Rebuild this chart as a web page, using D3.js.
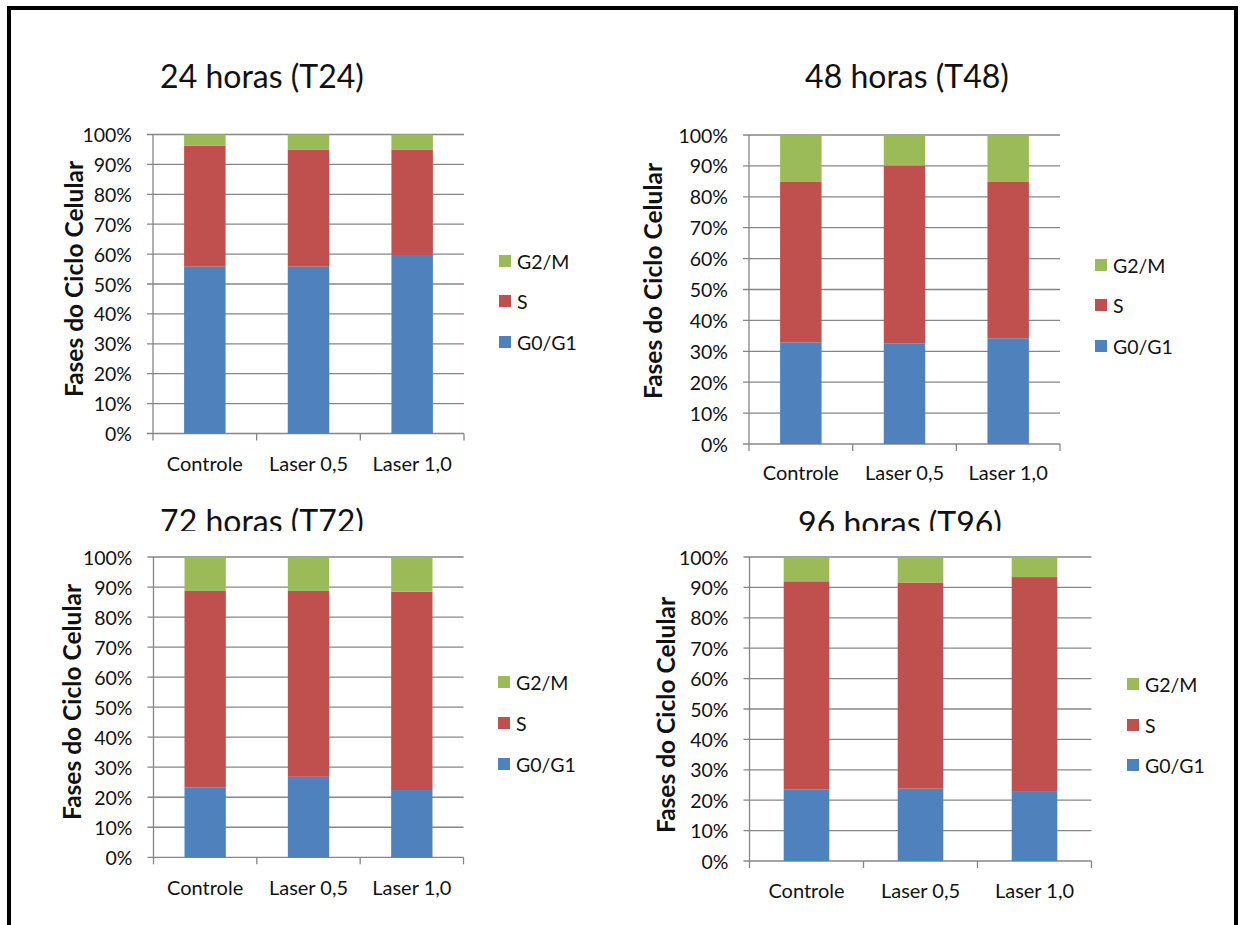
<!DOCTYPE html>
<html>
<head>
<meta charset="utf-8">
<script src="https://cdn.jsdelivr.net/npm/d3@7"></script>
<style>
  html, body { margin: 0; padding: 0; background: #fff; }
  svg { display: block; }
  text { font-family: Lato, "Open Sans", sans-serif; fill: #111; }
</style>
</head>
<body>
<svg id="chart" width="1240" height="925"></svg>
<script>
// ---------------- DATA ----------------
const categories = ["Controle", "Laser 0,5", "Laser 1,0"];
const seriesNames = ["G0/G1", "S", "G2/M"];
const legendOrder = ["G2/M", "S", "G0/G1"];
const panelTitles = ["24 horas (T24)", "48 horas (T48)", "72 horas (T72)", "96 horas (T96)"];
const yAxisTitle = "Fases do Ciclo Celular";
const yTickValues = [0, 10, 20, 30, 40, 50, 60, 70, 80, 90, 100];

const t24_G0G1 = [55.8, 55.8, 59.7];
const t24_S    = [40.5, 39.2, 35.3];
const t24_G2M  = [3.7, 5.0, 5.0];

const t48_G0G1 = [32.9, 32.6, 34.2];
const t48_S    = [51.9, 57.5, 50.6];
const t48_G2M  = [15.2, 9.9, 15.2];

const t72_G0G1 = [23.2, 26.8, 22.4];
const t72_S    = [65.5, 61.9, 66.0];
const t72_G2M  = [11.3, 11.3, 11.6];

const t96_G0G1 = [23.5, 23.8, 23.0];
const t96_S    = [68.5, 67.8, 70.4];
const t96_G2M  = [8.0, 8.4, 6.6];

const panelData = [
  [t24_G0G1, t24_S, t24_G2M],
  [t48_G0G1, t48_S, t48_G2M],
  [t72_G0G1, t72_S, t72_G2M],
  [t96_G0G1, t96_S, t96_G2M]
];

// ---------------- STYLE / LAYOUT ----------------
const colors = { "G0/G1": "#4F81BD", "S": "#C0504D", "G2/M": "#9BBB59" };
const gridColor = "#868686";

const layout = [
  { x0: 153, x1: 464, yTop: 134.5, yBot: 433.5, titleX: 262, titleY: 88, clipY: null,
    ylabX: 83, ylabY: 279, legX: 499, legY: [261, 301, 342], catY: 463 },
  { x0: 749, x1: 1060, yTop: 135, yBot: 444, titleX: 907, titleY: 88, clipY: null,
    ylabX: 662, ylabY: 281, legX: 1095, legY: [265, 305, 346], catY: 472 },
  { x0: 153.5, x1: 463.5, yTop: 557, yBot: 857.3, titleX: 262, titleY: 533, clipY: 531,
    ylabX: 81, ylabY: 702, legX: 498, legY: [682, 723, 764], catY: 887 },
  { x0: 749.5, x1: 1091.5, yTop: 557, yBot: 861, titleX: 900, titleY: 535, clipY: 531,
    ylabX: 675, ylabY: 715, legX: 1127, legY: [684, 725, 765], catY: 890 }
];

const svg = d3.select("#chart");

// clip for lower titles
const defs = svg.append("defs");
defs.append("clipPath").attr("id", "titleClip")
  .append("rect").attr("x", 0).attr("y", 480).attr("width", 1240).attr("height", 51);

layout.forEach((L, pi) => {
  const g = svg.append("g");
  const x = d3.scaleBand().domain(categories).range([L.x0, L.x1])
    .paddingInner(0.6).paddingOuter(0.3);
  const y = d3.scaleLinear().domain([0, 100]).range([L.yBot, L.yTop]);
  const step = (L.x1 - L.x0) / categories.length;

  // gridlines
  g.selectAll(".grid").data(yTickValues).enter().append("line")
    .attr("x1", L.x0 - 6).attr("x2", L.x1)
    .attr("y1", d => y(d)).attr("y2", d => y(d))
    .attr("stroke", gridColor).attr("stroke-width", 1.3);

  // y axis line
  g.append("line").attr("x1", L.x0).attr("x2", L.x0)
    .attr("y1", L.yTop).attr("y2", L.yBot)
    .attr("stroke", gridColor).attr("stroke-width", 1.3);

  // x boundary ticks
  g.selectAll(".xt").data(d3.range(categories.length + 1)).enter().append("line")
    .attr("x1", i => L.x0 + i * step).attr("x2", i => L.x0 + i * step)
    .attr("y1", L.yBot).attr("y2", L.yBot + 7)
    .attr("stroke", gridColor).attr("stroke-width", 1.3);

  // stacked bars
  const rows = categories.map((c, ci) => {
    const o = { cat: c };
    seriesNames.forEach((s, si) => { o[s] = panelData[pi][si][ci]; });
    return o;
  });
  const stack = d3.stack().keys(seriesNames)(rows);
  stack.forEach(layer => {
    g.selectAll(null).data(layer).enter().append("rect")
      .attr("x", d => x(d.data.cat))
      .attr("width", x.bandwidth())
      .attr("y", d => y(d[1]))
      .attr("height", d => y(d[0]) - y(d[1]))
      .attr("fill", colors[layer.key]);
  });

  // y tick labels
  g.selectAll(".yl").data(yTickValues).enter().append("text")
    .attr("x", L.x0 - 21).attr("y", d => y(d))
    .attr("text-anchor", "end").attr("dominant-baseline", "central")
    .style("font-size", "19.5px").text(d => d + "%");

  // category labels
  g.selectAll(".cl").data(categories).enter().append("text")
    .attr("x", d => x(d) + x.bandwidth() / 2).attr("y", L.catY)
    .attr("text-anchor", "middle").attr("dominant-baseline", "central")
    .style("font-size", "20px").text(d => d);

  // y axis title
  g.append("text")
    .attr("transform", `translate(${L.ylabX},${L.ylabY}) rotate(-90)`)
    .attr("text-anchor", "middle")
    .style("font-size", "24.5px").style("font-weight", "bold")
    .text(yAxisTitle);

  // title
  const t = g.append("text")
    .attr("x", L.titleX).attr("y", L.titleY)
    .attr("text-anchor", "middle")
    .style("font-size", "32px").text(panelTitles[pi]);
  if (L.clipY) t.attr("clip-path", "url(#titleClip)");

  // legend
  legendOrder.forEach((s, li) => {
    g.append("rect").attr("x", L.legX).attr("y", L.legY[li] - 6)
      .attr("width", 12).attr("height", 12).attr("fill", colors[s]);
    g.append("text").attr("x", L.legX + 18).attr("y", L.legY[li])
      .attr("dominant-baseline", "central")
      .style("font-size", "19.5px").text(s);
  });
});

// outer frame
svg.append("path").attr("d", "M9,940 V8 H1236 V940")
  .attr("fill", "none").attr("stroke", "#000").attr("stroke-width", 4);
</script>
</body>
</html>
